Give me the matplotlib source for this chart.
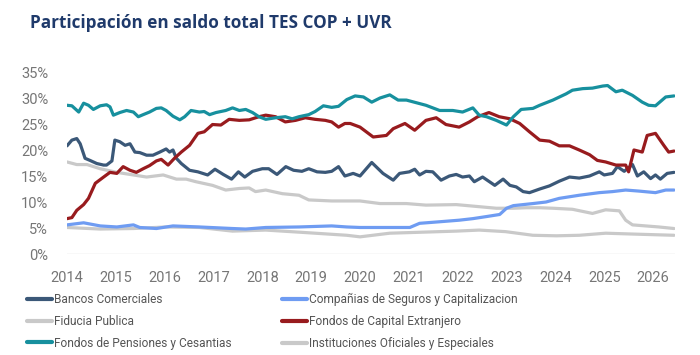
import matplotlib
matplotlib.use("Agg")
import matplotlib.pyplot as plt
from matplotlib.lines import Line2D

# ---------------- data (decimal years, % share) ----------------
bancos_x = [2014.00, 2014.10, 2014.20, 2014.27, 2014.37, 2014.47, 2014.61, 2014.75, 2014.81, 2014.92,
            2014.98, 2015.08, 2015.19, 2015.29, 2015.39, 2015.49, 2015.63, 2015.76, 2015.90, 2016.03,
            2016.10, 2016.17, 2016.24, 2016.34, 2016.51, 2016.68, 2016.88, 2017.03, 2017.20, 2017.37,
            2017.51, 2017.64, 2017.80, 2018.00, 2018.13, 2018.30, 2018.48, 2018.64, 2018.81, 2018.95,
            2019.12, 2019.29, 2019.42, 2019.56, 2019.69, 2019.86, 2020.00, 2020.24, 2020.47, 2020.68,
            2020.81, 2021.01, 2021.12, 2021.22, 2021.35, 2021.49, 2021.66, 2021.83, 2021.97, 2022.10,
            2022.24, 2022.34, 2022.51, 2022.76, 2022.93, 2023.07, 2023.20, 2023.34, 2023.47, 2023.68,
            2023.88, 2024.08, 2024.29, 2024.49, 2024.70, 2024.90, 2025.00, 2025.17, 2025.27, 2025.41,
            2025.58, 2025.68, 2025.81, 2025.95, 2026.05, 2026.15, 2026.29, 2026.43]
bancos = [20.8, 21.9, 22.2, 21.2, 18.4, 18.0, 17.4, 17.1, 17.1, 17.9,
          21.9, 21.6, 20.9, 21.2, 19.6, 19.5, 19.0, 19.0, 19.6, 20.2,
          19.6, 20.0, 18.4, 17.4, 16.1, 15.8, 15.2, 16.3, 15.3, 14.4,
          15.8, 14.8, 15.9, 16.4, 16.4, 15.3, 16.8, 16.1, 15.9, 16.4,
          15.8, 15.7, 15.9, 16.8, 15.0, 15.5, 15.0, 17.6, 15.5, 14.2,
          15.5, 15.8, 16.3, 15.2, 15.9, 15.8, 14.2, 15.0, 15.3, 14.8,
          15.0, 13.9, 14.8, 13.2, 14.4, 13.2, 12.9, 12.0, 11.8, 12.5,
          13.1, 14.0, 14.8, 14.6, 15.0, 15.8, 15.2, 15.5, 16.8, 15.9,
          17.2, 15.0, 15.8, 14.5, 15.2, 14.4, 15.5, 15.7]

seguros_x = [2014.00, 2014.34, 2014.68, 2015.02, 2015.36, 2015.49, 2015.83, 2016.17, 2016.71, 2017.39,
             2017.66, 2018.07, 2018.75, 2019.42, 2019.73, 2020.00, 2020.61, 2021.02, 2021.22, 2021.63,
             2022.03, 2022.31, 2022.59, 2022.86, 2023.00, 2023.14, 2023.54, 2023.81, 2024.08, 2024.49,
             2024.90, 2025.17, 2025.44, 2025.71, 2026.05, 2026.26, 2026.43]
seguros = [5.6, 6.0, 5.4, 5.2, 5.6, 5.1, 4.9, 5.4, 5.2, 4.9,
           4.8, 5.1, 5.2, 5.4, 5.2, 5.1, 5.1, 5.1, 5.9, 6.2,
           6.5, 6.8, 7.2, 7.6, 8.8, 9.3, 9.7, 10.0, 10.7, 11.3,
           11.8, 12.0, 12.3, 12.1, 11.8, 12.3, 12.3]

fiducia_x = [2014.00, 2014.20, 2014.41, 2014.68, 2015.02, 2015.36, 2015.63, 2015.97, 2016.24, 2016.44,
             2016.64, 2016.98, 2017.25, 2017.53, 2017.73, 2017.86, 2018.07, 2018.41, 2018.75, 2018.95,
             2019.42, 2019.73, 2020.00, 2020.41, 2020.95, 2021.35, 2021.97, 2022.44, 2022.79, 2023.14,
             2023.41, 2023.68, 2023.95, 2024.35, 2024.76, 2025.03, 2025.31, 2025.44, 2025.58, 2025.85,
             2026.12, 2026.43]
fiducia = [17.7, 17.2, 17.2, 16.4, 15.7, 15.2, 14.8, 15.2, 14.4, 14.4,
           13.9, 13.2, 12.3, 12.6, 12.7, 12.0, 12.3, 11.6, 11.3, 10.4,
           10.2, 10.2, 10.2, 9.7, 9.7, 9.4, 9.5, 9.1, 8.8, 8.8,
           8.9, 8.9, 8.8, 8.6, 7.8, 8.5, 8.3, 6.5, 5.6, 5.4,
           5.2, 4.9]

extranjero_x = [2014.00, 2014.10, 2014.20, 2014.34, 2014.44, 2014.58, 2014.75, 2014.88, 2015.02, 2015.15,
                2015.29, 2015.42, 2015.56, 2015.69, 2015.83, 2015.93, 2016.07, 2016.20, 2016.34, 2016.51,
                2016.68, 2016.81, 2016.98, 2017.15, 2017.32, 2017.53, 2017.73, 2017.93, 2018.07, 2018.27,
                2018.47, 2018.68, 2018.88, 2019.08, 2019.29, 2019.42, 2019.56, 2019.69, 2019.80, 2020.00,
                2020.27, 2020.54, 2020.68, 2020.92, 2021.12, 2021.35, 2021.56, 2021.76, 2022.03, 2022.24,
                2022.41, 2022.64, 2022.85, 2023.07, 2023.27, 2023.47, 2023.68, 2023.88, 2024.08, 2024.29,
                2024.49, 2024.70, 2024.86, 2025.03, 2025.24, 2025.44, 2025.50, 2025.61, 2025.78, 2025.88,
                2026.05, 2026.22, 2026.32, 2026.43]
extranjero = [6.8, 7.0, 8.4, 9.5, 10.7, 13.6, 14.8, 15.7, 15.5, 16.8,
              16.1, 15.7, 16.4, 17.0, 17.9, 18.2, 17.1, 18.4, 19.6, 20.9,
              23.2, 23.5, 24.9, 24.8, 25.9, 25.7, 25.8, 26.4, 26.7, 26.4,
              25.4, 25.7, 26.2, 25.9, 25.7, 25.4, 24.4, 25.1, 25.1, 24.4,
              22.5, 22.8, 24.1, 25.1, 23.8, 25.7, 26.2, 24.9, 24.4, 25.4,
              26.4, 27.2, 26.4, 26.0, 25.1, 23.5, 21.9, 21.7, 20.8, 20.8,
              20.0, 19.1, 18.0, 17.7, 17.1, 17.1, 15.8, 20.0, 19.6, 22.8,
              23.2, 20.9, 19.6, 19.8]

pensiones_x = [2014.00, 2014.10, 2014.24, 2014.34, 2014.44, 2014.54, 2014.68, 2014.81, 2014.88, 2014.95,
               2015.08, 2015.22, 2015.36, 2015.46, 2015.56, 2015.69, 2015.83, 2015.93, 2016.03, 2016.17,
               2016.31, 2016.41, 2016.54, 2016.71, 2016.81, 2016.92, 2017.05, 2017.25, 2017.39, 2017.53,
               2017.66, 2017.80, 2017.93, 2018.07, 2018.27, 2018.47, 2018.61, 2018.75, 2018.95, 2019.08,
               2019.25, 2019.42, 2019.56, 2019.73, 2019.90, 2020.07, 2020.24, 2020.41, 2020.61, 2020.78,
               2020.95, 2021.15, 2021.35, 2021.63, 2021.90, 2022.10, 2022.31, 2022.44, 2022.59, 2022.79,
               2023.00, 2023.14, 2023.30, 2023.54, 2023.68, 2023.95, 2024.22, 2024.35, 2024.56, 2024.76,
               2024.97, 2025.07, 2025.24, 2025.37, 2025.58, 2025.78, 2025.91, 2026.05, 2026.26, 2026.43]
pensiones = [28.6, 28.5, 27.3, 29.0, 28.6, 27.8, 28.5, 28.7, 28.3, 26.7,
             27.2, 27.6, 27.3, 26.4, 26.8, 27.3, 28.0, 28.1, 27.6, 26.5,
             25.8, 26.4, 27.6, 27.3, 27.4, 26.8, 27.2, 27.6, 28.1, 27.6,
             27.8, 27.2, 26.4, 25.9, 26.2, 26.4, 26.0, 26.4, 26.8, 27.4,
             28.5, 28.2, 28.4, 29.7, 30.4, 30.2, 29.2, 30.0, 30.6, 29.6,
             29.6, 29.1, 28.6, 27.6, 27.6, 27.3, 28.1, 26.7, 26.4, 25.7,
             24.8, 26.4, 27.8, 28.0, 28.6, 29.6, 30.8, 31.5, 31.8, 31.9,
             32.3, 32.4, 31.2, 31.5, 30.5, 29.2, 28.6, 28.5, 30.2, 30.4]

instituciones_x = [2014.00, 2014.68, 2015.36, 2016.03, 2016.71, 2017.39, 2018.07, 2018.75, 2019.08, 2019.73,
                   2020.00, 2020.61, 2021.29, 2021.97, 2022.44, 2022.98, 2023.54, 2024.02, 2024.49, 2025.03,
                   2025.71, 2026.43]
instituciones = [5.1, 4.8, 4.9, 5.2, 5.1, 4.4, 4.6, 4.2, 4.0, 3.6,
                 3.3, 4.0, 4.2, 4.4, 4.6, 4.3, 3.6, 3.5, 3.6, 4.0,
                 3.8, 3.6]

years = list(range(2014, 2027))
yticks = [0, 5, 10, 15, 20, 25, 30, 35]

c_bancos = "#3B5878"
c_seguros = "#6F9CF2"
c_gris = "#C9C9C9"
c_extr = "#981B1E"
c_pens = "#17909E"

W, H = 700, 355
fig = plt.figure(figsize=(W / 100, H / 100), dpi=100)
fig.patch.set_facecolor("white")

ax = fig.add_axes([67 / W, 1 - 254 / H, (675 - 67) / W, (254 - 72) / H])
lw = 2.3
ax.plot(instituciones_x, instituciones, color=c_gris, lw=lw, solid_capstyle="round", zorder=2)
ax.plot(fiducia_x, fiducia, color=c_gris, lw=lw, solid_capstyle="round", zorder=2)
ax.plot(seguros_x, seguros, color=c_seguros, lw=lw, solid_capstyle="round", zorder=3)
ax.plot(bancos_x, bancos, color=c_bancos, lw=lw, solid_capstyle="round", zorder=4)
ax.plot(extranjero_x, extranjero, color=c_extr, lw=lw, solid_capstyle="round", zorder=5)
ax.plot(pensiones_x, pensiones, color=c_pens, lw=lw, solid_capstyle="round", zorder=6)

ax.set_xlim(2014, 2026.45)
ax.set_ylim(0, 35)
ax.set_xticks(years)
ax.set_xticklabels([str(y) for y in years], family="Roboto")
ax.set_yticks(yticks)
ax.set_yticklabels([f"{v}%" for v in yticks], family="Roboto")
for s in ax.spines.values():
    s.set_visible(False)
ax.axhline(0, color="#E0E0E0", lw=1.0, zorder=1)
ax.tick_params(axis="both", length=0, colors="#767676", labelsize=10.5)
ax.tick_params(axis="y", pad=13.5)
ax.tick_params(axis="x", pad=12.5)

fig.text(30 / W, 1 - 23 / H, "Participación en saldo total TES COP + UVR",
         fontsize=12.3, fontweight="bold", color="#1F3A6B", family="Open Sans",
         va="center", ha="left")

def mk(c):
    return Line2D([0], [0], color=c, lw=3.0, solid_capstyle="round")

leg_kw = dict(frameon=False, prop={"family": "Roboto", "size": 8.6}, handlelength=2.1,
              handletextpad=0.2, labelspacing=0.74, borderpad=0, borderaxespad=0,
              labelcolor="#555555")
l1 = fig.legend([mk(c_bancos), mk(c_gris), mk(c_pens)],
                ["Bancos Comerciales", "Fiducia Publica", "Fondos de Pensiones y Cesantias"],
                loc="upper left", bbox_to_anchor=(27 / W, 1 - 293 / H), **leg_kw)
l2 = fig.legend([mk(c_seguros), mk(c_extr), mk(c_gris)],
                ["Compañias de Seguros y Capitalizacion", "Fondos de Capital Extranjero",
                 "Instituciones Oficiales y Especiales"],
                loc="upper left", bbox_to_anchor=(282 / W, 1 - 293 / H), **leg_kw)

fig.savefig("out.png", dpi=100, facecolor="white")
